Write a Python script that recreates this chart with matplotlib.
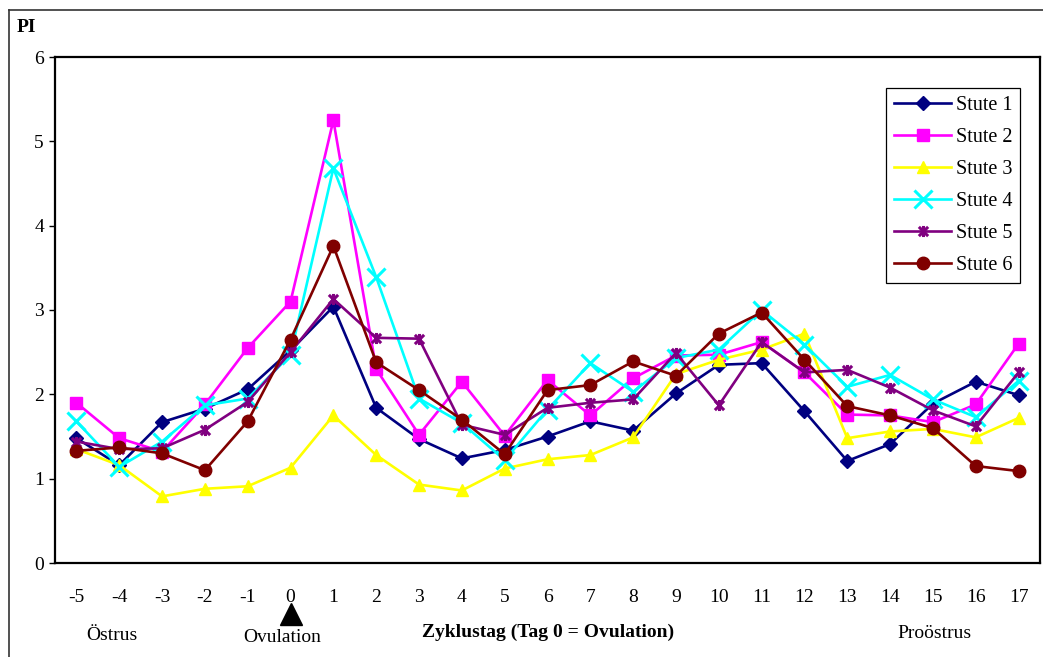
import matplotlib
matplotlib.use("Agg")
import matplotlib.pyplot as plt
from matplotlib.lines import Line2D
from matplotlib.path import Path
import matplotlib.transforms as mtransforms

plt.rcParams['font.family'] = ['Liberation Serif', 'DejaVu Serif']

# Zyklustag
days = list(range(-5, 18))

# PI values per mare
stute1 = [1.48, 1.16, 1.67, 1.83, 2.06, 2.52, 3.04, 1.84, 1.47, 1.24, 1.34, 1.50, 1.68,
          1.57, 2.01, 2.35, 2.37, 1.80, 1.21, 1.41, 1.89, 2.15, 1.99]
stute2 = [1.90, 1.48, 1.32, 1.88, 2.55, 3.10, 5.25, 2.30, 1.52, 2.15, 1.51, 2.17, 1.75,
          2.19, 2.46, 2.47, 2.62, 2.26, 1.76, 1.75, 1.67, 1.88, 2.60]
stute3 = [1.35, 1.16, 0.79, 0.88, 0.91, 1.13, 1.75, 1.28, 0.93, 0.86, 1.12, 1.23, 1.28,
          1.49, 2.24, 2.41, 2.53, 2.72, 1.48, 1.56, 1.59, 1.49, 1.72]
stute4 = [1.68, 1.14, 1.44, 1.87, 1.95, 2.47, 4.68, 3.39, 1.95, 1.66, 1.22, 1.82, 2.37,
          2.03, 2.43, 2.53, 3.00, 2.59, 2.09, 2.23, 1.94, 1.73, 2.16]
stute5 = [1.44, 1.35, 1.36, 1.58, 1.91, 2.50, 3.13, 2.67, 2.66, 1.64, 1.52, 1.84, 1.90,
          1.94, 2.49, 1.87, 2.62, 2.26, 2.29, 2.08, 1.81, 1.62, 2.26]
stute6 = [1.33, 1.37, 1.30, 1.10, 1.68, 2.65, 3.76, 2.38, 2.05, 1.70, 1.29, 2.05, 2.11,
          2.39, 2.22, 2.72, 2.97, 2.41, 1.86, 1.75, 1.60, 1.15, 1.09]

# Excel style star: an x with a vertical bar through it
star = Path([(-1, -1), (1, 1), (-1, 1), (1, -1), (0, -1.2), (0, 1.2)],
            [Path.MOVETO, Path.LINETO, Path.MOVETO, Path.LINETO, Path.MOVETO, Path.LINETO])

series = [
    ("Stute 1", stute1, "#000080", "D", 7),
    ("Stute 2", stute2, "#FF00FF", "s", 8),
    ("Stute 3", stute3, "#FFFF00", "^", 9),
    ("Stute 4", stute4, "#00FFFF", "x", 13),
    ("Stute 5", stute5, "#800080", star, 8),
    ("Stute 6", stute6, "#800000", "o", 9),
]

fig = plt.figure(figsize=(10.43, 6.57), dpi=100)
ax = fig.add_axes([55/1043, 94/657, 985/1043, 506/657])

for name, vals, col, mk, ms in series:
    thin = isinstance(mk, Path) or mk == "x"
    ax.plot(days, vals, color=col, marker=mk, markersize=ms, linewidth=1.9,
            markeredgewidth=2.2 if thin else 1,
            markeredgecolor=col, markerfacecolor=col, label=name, clip_on=False)

ax.set_xlim(-5.5, 17.5)
ax.set_ylim(0, 6)
ax.set_xticks(days)
ax.set_xticklabels([str(d) for d in days])
ax.set_yticks(range(0, 7))
ax.tick_params(axis='x', length=0, pad=19, labelsize=14)
ax.tick_params(axis='y', direction='out', length=4, width=1, pad=4, labelsize=14)
for sp in ax.spines.values():
    sp.set_linewidth(1.6)
    sp.set_color('black')

leg = ax.legend(loc='upper right', bbox_to_anchor=(0.98, 0.939), borderaxespad=0,
                fontsize=14.5, handlelength=2.8, handletextpad=0.25, labelspacing=0.64,
                borderpad=0.4, fancybox=False, framealpha=1, edgecolor='black')
leg.get_frame().set_linewidth(0.9)

# ovulation marker under day 0
trans = mtransforms.blended_transform_factory(ax.transData, ax.transAxes)
ax.plot([0], [-0.101], marker='^', markersize=16, color='black', transform=trans,
        clip_on=False)

fig.text(112/1043, 1 - 636/657, "Östrus", ha='center', va='center', fontsize=14)
fig.text(282/1043, 1 - 637/657, "Ovulation", ha='center', va='center', fontsize=14)
fig.text(548/1043, 1 - 632/657, "Zyklustag (Tag 0 = Ovulation)", ha='center',
         va='center', fontsize=14, fontweight='bold')
fig.text(934/1043, 1 - 634/657, "Proöstrus", ha='center', va='center', fontsize=14)
fig.text(17/1043, 1 - 27/657, "PI", ha='left', va='center', fontsize=14,
         fontweight='bold')

# outer chart frame (left and top edges visible)
fig.add_artist(Line2D([9/1043, 9/1043], [0, 1 - 10/657], color='#333333', linewidth=1.2))
fig.add_artist(Line2D([9/1043, 1], [1 - 10/657, 1 - 10/657], color='#333333', linewidth=1.2))

fig.savefig("out.png", dpi=100)
